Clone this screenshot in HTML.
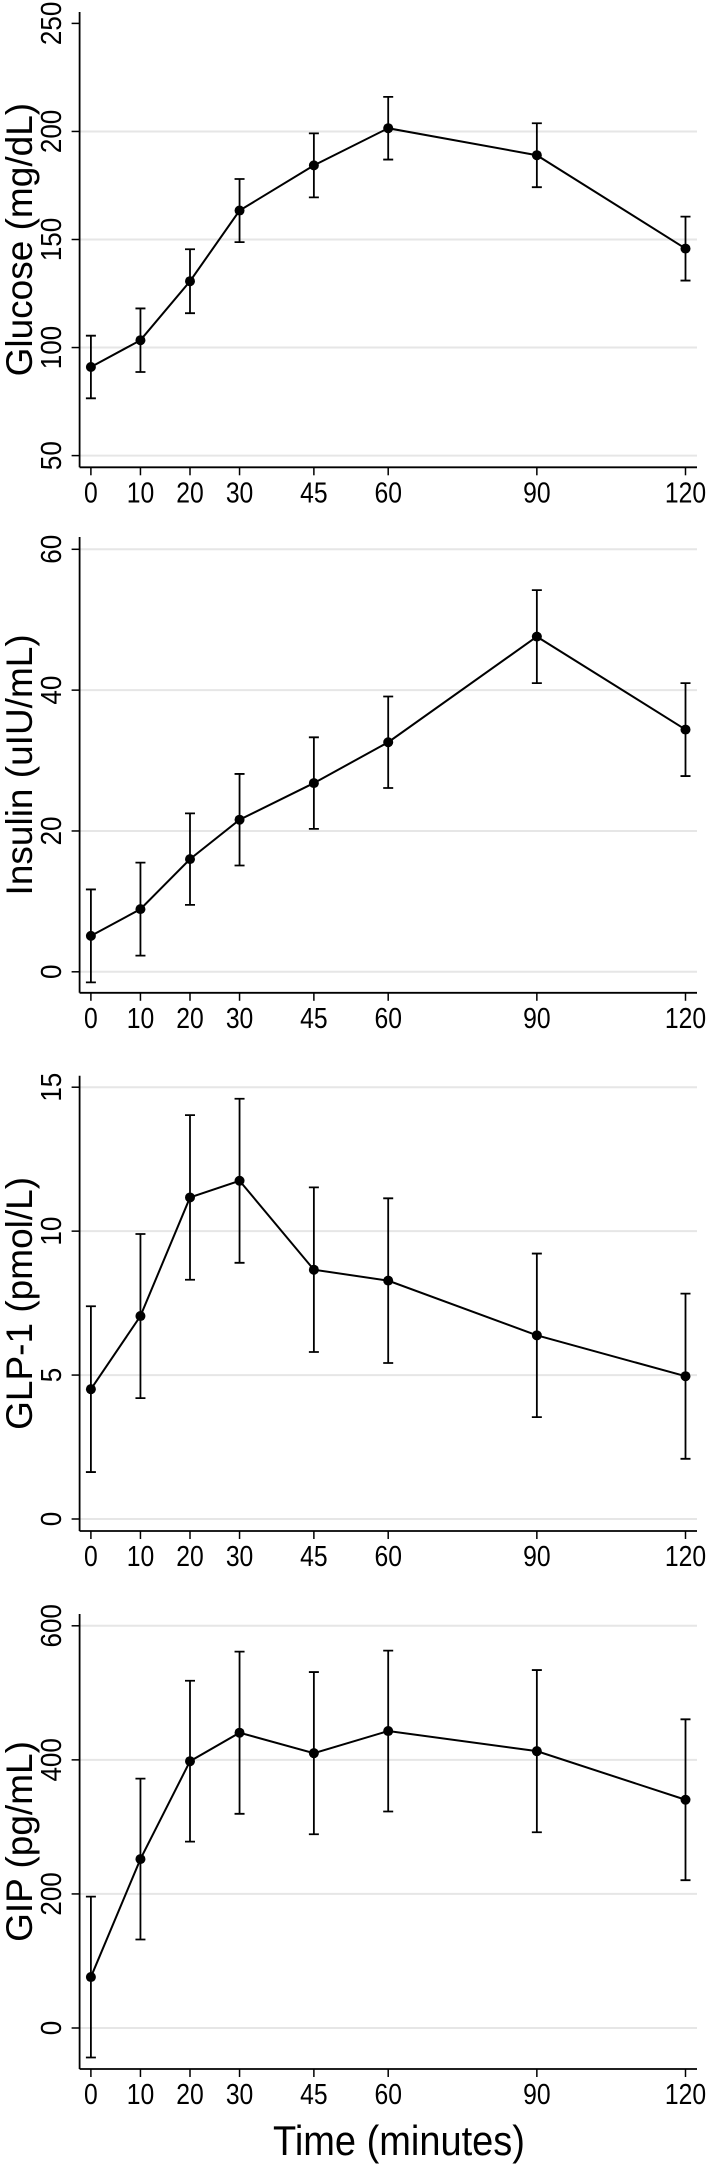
<!DOCTYPE html>
<html><head><meta charset="utf-8"><style>
html,body{margin:0;padding:0;background:#fff;}
svg{display:block;font-family:"Liberation Sans",Arial,sans-serif;}
</style></head><body>
<svg id="chart" width="709" height="2164" viewBox="0 0 709 2164" xmlns="http://www.w3.org/2000/svg"></svg>
<script>
const times = [0,10,20,30,45,60,90,120];
const xTickLabels = ["0","10","20","30","45","60","90","120"];
const glucoseMean = [91,103.4,130.7,163.4,184.3,201.5,189,145.8];
const glucoseErr = [14.5,14.7,14.8,14.6,14.8,14.5,14.8,14.8];
const glucoseTicks = [50,100,150,200,250];
const insulinMean = [5.1,8.9,16.0,21.6,26.8,32.6,47.6,34.4];
const insulinErr = [6.6,6.6,6.5,6.5,6.5,6.5,6.6,6.6];
const insulinTicks = [0,20,40,60];
const glp1Mean = [4.51,7.05,11.17,11.75,8.66,8.28,6.38,4.96];
const glp1Err = [2.88,2.85,2.86,2.85,2.86,2.86,2.84,2.87];
const glp1Ticks = [0,5,10,15];
const gipMean = [76,252,398,440.5,410,443,413,340.5];
const gipErr = [120,120,120,121,121,120,121,120];
const gipTicks = [0,200,400,600];

const NS="http://www.w3.org/2000/svg";
const svg=document.getElementById('chart');
function mk(tag,attrs,parent){const e=document.createElementNS(NS,tag);for(const k in attrs)e.setAttribute(k,attrs[k]);(parent||svg).appendChild(e);return e;}

const X0=90.9, X1=685.5, AXL=79.6, AXR=697;
function xScale(t){return X0+(t/120)*(X1-X0);}

function panel(cfg){
  const g=mk('g',{});
  
  
  const lo=cfg.ticks[0], hi=cfg.ticks[cfg.ticks.length-1];
  const y=v=>cfg.yLo+(v-lo)/(hi-lo)*(cfg.yHi-cfg.yLo);
  cfg.ticks.forEach((v,i)=>{
    if(cfg.grid.indexOf(v)>=0){
      const l=mk('line',{x1:AXL,x2:AXR,y1:y(v),y2:y(v),stroke:'#e6e6e6','stroke-width':2},g);
      
      
    }
    const tk=mk('line',{x1:AXL-8,x2:AXL,y1:y(v),y2:y(v),stroke:'#000','stroke-width':1.5},g);
    
    
    const tx=mk('text',{x:0,y:0,'font-size':26,'text-anchor':'middle',transform:`translate(61,${y(v)}) rotate(-90) scale(1,1.1)`},g);
    tx.textContent=String(v);
    
    
  });
  const ya=mk('line',{x1:AXL,x2:AXL,y1:cfg.top,y2:cfg.bottom,stroke:'#000','stroke-width':1.8},g);
  
  
  const xa=mk('line',{x1:AXL,x2:AXR,y1:cfg.bottom,y2:cfg.bottom,stroke:'#000','stroke-width':1.8},g);
  
  
  times.forEach((t,i)=>{
    const tk=mk('line',{x1:xScale(t),x2:xScale(t),y1:cfg.bottom,y2:cfg.bottom+8,stroke:'#000','stroke-width':1.5},g);
    
    
    const tx=mk('text',{x:0,y:0,'font-size':26,'text-anchor':'middle',transform:`translate(${xScale(t)},${cfg.bottom+35}) scale(0.95,1.1)`},g);
    tx.textContent=xTickLabels[i];
    
    
  });
  const mid=(cfg.top+cfg.bottom)/2;
  const tt=mk('text',{x:0,y:0,'font-size':37,'text-anchor':'middle',transform:`translate(32,${mid}) rotate(-90)`},g);
  tt.textContent=cfg.title;
  
  
  cfg.mean.forEach((m,i)=>{
    const cx=xScale(times[i]), e=cfg.err[i];
    const eb=mk('path',{d:`M${cx},${y(m-e)}V${y(m+e)}M${cx-5},${y(m-e)}H${cx+5}M${cx-5},${y(m+e)}H${cx+5}`,stroke:'#000','stroke-width':1.8,fill:'none'},g);
    
    
  });
  const pts=cfg.mean.map((m,i)=>xScale(times[i])+','+y(m)).join(' ');
  const pl=mk('polyline',{points:pts,fill:'none',stroke:'#000','stroke-width':2},g);
  
  
  cfg.mean.forEach((m,i)=>{
    const c=mk('circle',{cx:xScale(times[i]),cy:y(m),r:5,fill:'#000'},g);
    
    
  });
}

panel({name:'glucose',title:'Glucose (mg/dL)',mean:glucoseMean,err:glucoseErr,ticks:glucoseTicks,grid:[50,100,150,200],yLo:455.6,yHi:23.4,top:12,bottom:467.3});
panel({name:'insulin',title:'Insulin (uIU/mL)',mean:insulinMean,err:insulinErr,ticks:insulinTicks,grid:[0,20,40,60],yLo:971.8,yHi:549.3,top:537,bottom:992.8});
panel({name:'glp1',title:'GLP-1 (pmol/L)',mean:glp1Mean,err:glp1Err,ticks:glp1Ticks,grid:[0,5,10,15],yLo:1519,yHi:1087.2,top:1075.8,bottom:1531});
panel({name:'gip',title:'GIP (pg/mL)',mean:gipMean,err:gipErr,ticks:gipTicks,grid:[0,200,400,600],yLo:2028,yHi:1625.8,top:1614,bottom:2069});

const xt=mk('text',{x:0,y:0,'font-size':38,'text-anchor':'middle',transform:'translate(399,2155) scale(1,1.1)'});
xt.textContent='Time (minutes)';


</script>
</body></html>
